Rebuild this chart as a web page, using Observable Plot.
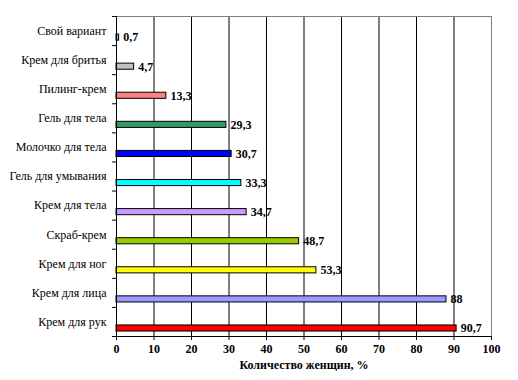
<!DOCTYPE html>
<html><head><meta charset="utf-8">
<script src="https://cdn.jsdelivr.net/npm/d3@7"></script>
<script src="https://cdn.jsdelivr.net/npm/@observablehq/plot@0.6"></script>
<style>
html,body{margin:0;padding:0;background:#fff;}
#chart svg, #chart svg text{font-family:'Liberation Serif','Times New Roman',serif !important;}
</style>
</head><body>
<div id="chart"></div>
<script>
// categories listed bottom to top
const categories = ["Крем для рук","Крем для лица","Крем для ног","Скраб-крем","Крем для тела","Гель для умывания","Молочко для тела","Гель для тела","Пилинг-крем","Крем для бритья","Свой вариант"];
const values = [90.7, 88, 53.3, 48.7, 34.7, 33.3, 30.7, 29.3, 13.3, 4.7, 0.7];
const colors = ["#FF0000","#9999FF","#FFFF00","#99CC00","#CC99FF","#00FFFF","#0000FF","#339966","#FF8080","#C0C0C0","#9999FF"];
const xTicks = [0,10,20,30,40,50,60,70,80,90,100];
const xTitle = "Количество женщин, %";

const data = categories.map((c, i) => ({cat: c, i, value: values[i], color: colors[i]}));
const fmt = v => String(v).replace(".", ",");
const serif = "'Liberation Serif', 'Times New Roman', serif";

const chart = Plot.plot({
  width: 518,
  height: 380,
  marginLeft: 116,
  marginRight: 27,
  marginTop: 16,
  marginBottom: 44,
  style: {fontFamily: serif, fontSize: "12px", color: "#000", background: "#fff"},
  x: {domain: [0, 100]},
  y: {domain: [0, categories.length]},
  marks: [
    Plot.ruleX(xTicks.slice(1, -1), {stroke: "#000", strokeWidth: 1}),
    Plot.ruleX([100], {stroke: "#808080", strokeWidth: 1}),
    Plot.ruleY([categories.length], {stroke: "#808080", strokeWidth: 1}),
    Plot.rectX(data, {
      x1: 0, x2: "value",
      y1: d => d.i + 0.17, y2: d => d.i + 0.38,
      fill: d => d.color, stroke: "#000", strokeWidth: 1
    }),
    Plot.text(data, {
      x: "value", y: d => d.i + 0.275, text: d => fmt(d.value),
      textAnchor: "start", dx: 4, fontWeight: "bold", fontSize: 12, fill: "#000"
    }),
    Plot.axisX({
      ticks: xTicks, tickSize: 4, tickPadding: 4, fontWeight: "bold", fontSize: 12,
      label: xTitle, labelAnchor: "center", labelArrow: "none", labelOffset: 32
    }),
    Plot.axisY({
      ticks: d3.range(categories.length + 1), tickSize: 4, tickFormat: () => ""
    }),
    Plot.axisY({
      ticks: categories.map((c, i) => i + 0.5), tickSize: 0, tickPadding: 10,
      tickFormat: t => categories[Math.floor(t)], label: null, fontSize: 12
    }),
    Plot.ruleX([0], {stroke: "#000", strokeWidth: 1}),
    Plot.ruleY([0], {stroke: "#000", strokeWidth: 1})
  ]
});
document.getElementById("chart").appendChild(chart);
</script>
</body></html>
